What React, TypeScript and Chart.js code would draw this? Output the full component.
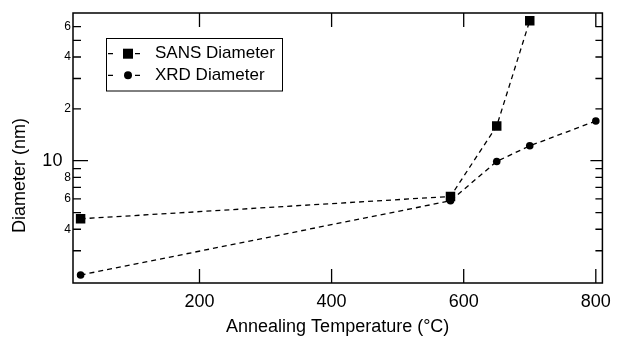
import React, { useEffect, useRef } from "react";
import { Chart, registerables } from "chart.js";

Chart.register(...registerables);

// ---- data ----
const sansTemps = [20, 580, 650, 700];
const sansDiam = [4.6, 6.2, 15.9, 65];
const xrdTemps = [20, 580, 650, 700, 800];
const xrdDiam = [2.17, 5.85, 9.9, 12.2, 17.0];
const seriesLabels = ["SANS Diameter", "XRD Diameter"];
const xTicks = [200, 400, 600, 800];
const yTicks = [3, 4, 5, 6, 7, 8, 9, 10, 20, 30, 40, 50, 60];
const yTickLabels: Record<number, string> = {
  4: "4",
  6: "6",
  8: "8",
  10: "10 \u2009",
  20: "2",
  40: "4",
  60: "6",
};
const xTitle = "Annealing Temperature (°C)";
const yTitle = "Diameter (nm)";

const FONT = "'Liberation Sans', Arial, Helvetica, sans-serif";

const framePlugin = {
  id: "igorFrame",
  afterDraw(chart: any) {
    const { ctx, chartArea, scales } = chart;
    const { left, right, top, bottom } = chartArea;
    const x = scales.x;
    const y = scales.y;
    ctx.save();
    ctx.setLineDash([]);
    ctx.strokeStyle = "#000";
    ctx.lineWidth = 1.5;
    ctx.strokeRect(left, top, right - left, bottom - top);

    ctx.lineWidth = 1.3;
    ctx.beginPath();
    for (const v of yTicks) {
      const py = y.getPixelForValue(v);
      const major = v === 10;
      ctx.moveTo(left, py);
      ctx.lineTo(left + (major ? 15 : 8), py);
      ctx.moveTo(right, py);
      ctx.lineTo(right - (major ? 12 : 7), py);
    }
    for (const v of xTicks) {
      const px = x.getPixelForValue(v);
      ctx.moveTo(px, bottom);
      ctx.lineTo(px, bottom - 14);
      ctx.moveTo(px, top);
      ctx.lineTo(px, top + 14);
    }
    ctx.stroke();

    // y axis title
    ctx.save();
    ctx.translate(20, 175.5);
    ctx.rotate(-Math.PI / 2);
    ctx.fillStyle = "#000";
    ctx.font = `18px ${FONT}`;
    ctx.textAlign = "center";
    ctx.textBaseline = "middle";
    ctx.fillText(yTitle, 0, 0);
    ctx.restore();

    // legend
    const bx = 106.5, by = 38.5, bw = 176, bh = 52.5;
    ctx.fillStyle = "#fff";
    ctx.fillRect(bx, by, bw, bh);
    ctx.strokeStyle = "#000";
    ctx.lineWidth = 1;
    ctx.strokeRect(bx, by, bw, bh);
    const rows = [53.7, 75.3];
    chart.data.datasets.forEach((ds: any, i: number) => {
      const ry = rows[i];
      ctx.lineWidth = 1.3;
      ctx.beginPath();
      ctx.moveTo(108, ry);
      ctx.lineTo(113, ry);
      ctx.moveTo(135, ry);
      ctx.lineTo(140, ry);
      ctx.stroke();
      ctx.fillStyle = "#000";
      if (ds.pointStyle === "rect") {
        ctx.fillRect(123, ry - 5, 10, 10);
      } else {
        ctx.beginPath();
        ctx.arc(128, ry, 4, 0, Math.PI * 2);
        ctx.fill();
      }
      ctx.font = `17px ${FONT}`;
      ctx.textAlign = "left";
      ctx.textBaseline = "middle";
      ctx.fillText(ds.label, 155, ry);
    });
    ctx.restore();
  },
};

export default function App() {
  const ref = useRef<HTMLCanvasElement | null>(null);
  useEffect(() => {
    document.body.style.margin = "0";
    const canvas = ref.current;
    if (!canvas) return;
    const chart = new Chart(canvas, {
      type: "line",
      data: {
        datasets: [
          {
            label: seriesLabels[0],
            data: sansTemps.map((t, i) => ({ x: t, y: sansDiam[i] })),
            borderColor: "#000",
            borderWidth: 1.3,
            borderDash: [5, 4],
            backgroundColor: "#000",
            pointStyle: "rect",
            pointRadius: 6.7,
            pointBorderWidth: 0,
            pointBackgroundColor: "#000",
            fill: false,
          },
          {
            label: seriesLabels[1],
            data: xrdTemps.map((t, i) => ({ x: t, y: xrdDiam[i] })),
            borderColor: "#000",
            borderWidth: 1.3,
            borderDash: [5, 4],
            backgroundColor: "#000",
            pointStyle: "circle",
            pointRadius: 3.8,
            pointBorderWidth: 0,
            pointBackgroundColor: "#000",
            fill: false,
          },
        ],
      },
      options: {
        animation: false,
        responsive: false,
        devicePixelRatio: 1,
        layout: { padding: { top: 13, right: 14, left: 0, bottom: 0 } },
        plugins: { legend: { display: false }, tooltip: { enabled: false } },
        scales: {
          x: {
            type: "linear",
            min: 8.5,
            max: 810,
            afterBuildTicks: (s: any) => {
              s.ticks = xTicks.map((v) => ({ value: v }));
            },
            afterFit: (s: any) => {
              s.height = 60;
            },
            grid: { display: false, drawTicks: false },
            border: { display: false },
            ticks: {
              autoSkip: false,
              maxRotation: 0,
              padding: 10,
              color: "#000",
              font: { family: FONT, size: 18, lineHeight: 1 },
              callback: (v: any) => String(v),
            },
            title: {
              display: true,
              text: xTitle,
              color: "#000",
              font: { family: FONT, size: 18, lineHeight: 1 },
              padding: { top: 0, bottom: 7 },
            },
          },
          y: {
            type: "logarithmic",
            min: 1.95,
            max: 72,
            afterBuildTicks: (s: any) => {
              s.ticks = yTicks.map((v) => ({ value: v }));
            },
            afterFit: (s: any) => {
              s.width = 73;
            },
            grid: { display: false, drawTicks: false },
            border: { display: false },
            ticks: {
              autoSkip: false,
              padding: 2,
              color: "#000",
              font: (c: any) => ({
                family: FONT,
                size: c.tick && c.tick.value === 10 ? 18 : 12,
                lineHeight: 1,
              }),
              callback: (v: any) => yTickLabels[v as number] ?? "",
            },
          },
        },
      },
      plugins: [framePlugin],
    } as any);
    return () => chart.destroy();
  }, []);
  return (
    <div style={{ width: 621, height: 343 }}>
      <canvas ref={ref} width={621} height={343} style={{ display: "block" }} />
    </div>
  );
}
